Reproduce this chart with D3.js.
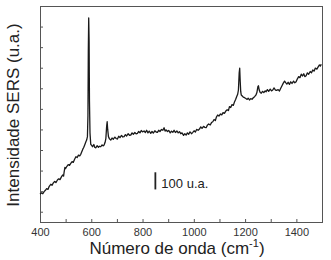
<!DOCTYPE html>
<meta charset="utf-8">
<title>Espectro SERS</title>
<style>
body { margin:0; background:#fff; }
svg { font-family: "Liberation Sans", Arial, sans-serif; }
.axis path, .axis line { stroke:#555; }
.axis text { font-size:11px; fill:#333; }
.frame { fill:none; stroke:#555; stroke-width:1px; }
.spectrum { fill:none; stroke:#1a1a1a; stroke-width:1.3px; stroke-linejoin:round; }
.label { font-size:17px; fill:#222; }
</style>
<body>
<div id="chart"></div>
<script src="https://cdn.jsdelivr.net/npm/d3@7"></script>
<script>
// numero de onda (cm-1)
var wavenumber = [400,406,411,416,421,426,431,436,442,447,452,457,462,468,473,478,483,488,492,494,497,500,505,510,515,520,525,530,535,540,545,550,555,559,563,567,570,574,579,582,585,587,588.5,590,591.5,593,595,598,602,605,610,614,618,623,628,632,637,642,646,650,654,657,660,662,664,667,671,676,681,686,692,697,702,707,712,718,723,728,733,738,744,749,754,759,764,770,775,780,785,790,795,800,806,811,816,821,826,832,837,842,848,853,858,863,868,874,879,884,888,892,897,902,908,913,918,923,928,934,939,944,949,954,960,965,970,975,980,985,991,996,1001,1006,1011,1017,1022,1027,1032,1038,1043,1048,1053,1058,1064,1069,1074,1079,1084,1088,1093,1098,1104,1109,1114,1120,1125,1130,1135,1139,1144,1149,1154,1159,1163,1167,1171,1174,1177,1179,1181,1183,1185,1189,1193,1198,1203,1208,1212,1217,1222,1227,1232,1237,1242,1246,1250,1252,1255,1259,1263,1268,1273,1278,1282,1287,1292,1298,1303,1308,1313,1318,1323,1329,1334,1339,1344,1349,1354,1359,1363,1368,1373,1378,1383,1389,1394,1399,1404,1409,1414,1419,1424,1429,1433,1438,1443,1448,1454,1459,1464,1469,1474,1480,1485,1490,1494,1497];
// intensidade (u.a.)
var intensity = [162,170,165,177,185,195,190,208,220,214,228,236,230,245,252,247,262,274,268,290,318,312,325,335,330,342,352,348,366,381,376,390,386,395,410,425,433,448,468,478,498,620,1000,1190,1060,700,520,453,446,439,452,435,433,445,436,442,439,450,444,449,465,488,560,585,540,498,485,478,490,483,495,487,484,500,492,505,496,498,510,502,515,506,507,520,512,522,514,517,528,520,534,526,531,522,535,520,530,517,528,519,532,525,523,535,528,540,535,550,530,537,528,534,520,530,523,535,522,531,520,527,515,520,505,515,507,520,512,526,515,523,532,525,540,535,542,555,546,558,552,550,565,572,566,580,585,598,592,612,624,618,630,625,638,634,648,655,650,673,668,685,680,702,715,730,745,770,870,897,820,760,741,735,728,725,720,715,722,712,720,716,725,731,740,755,790,795,770,755,751,762,755,765,760,772,762,775,765,770,782,770,768,772,764,780,795,810,822,812,805,815,803,818,808,822,812,818,835,848,842,862,852,865,848,853,870,862,878,870,887,880,898,892,905,916,910,920];

var xTicks = [400,500,600,700,800,900,1000,1100,1200,1300,1400,1500];
var xLabels = [400,600,800,1000,1200,1400];
var yTicks = [60,180,300,420,540,660,780,900,1020,1140];
var barValue = 100;

var W = 331, H = 260;
var margin = {top:6, right:9, bottom:38, left:40};
var w = W - margin.left - margin.right, h = H - margin.top - margin.bottom;

var svg = d3.select("#chart").append("svg")
    .attr("width", W).attr("height", H);
var g = svg.append("g").attr("transform", "translate(" + margin.left + "," + margin.top + ")");

var x = d3.scaleLinear().domain([400,1500]).range([0,w]);
var y = d3.scaleLinear().domain([0,1260]).range([h,0]);

g.append("g").attr("class","axis")
  .attr("transform","translate(0," + h + ")")
  .call(d3.axisBottom(x).tickValues(xTicks).tickSize(-3).tickPadding(6)
        .tickFormat(function(d){ return xLabels.indexOf(d) >= 0 ? d : ""; }))
  .call(function(a){ a.select(".domain").remove(); });

g.append("g").attr("class","axis")
  .call(d3.axisLeft(y).tickValues(yTicks).tickSize(-3).tickFormat(""))
  .call(function(a){ a.select(".domain").remove(); });

g.append("rect").attr("class","frame")
  .attr("x",0.5).attr("y",0.5).attr("width",w).attr("height",h);

var line = d3.line()
  .x(function(d,i){ return x(wavenumber[i]); })
  .y(function(d){ return y(d); });

g.append("path").datum(intensity).attr("class","spectrum").attr("d", line);

// barra de escala
var bx = x(850), by = y(190);
g.append("line")
  .attr("x1",bx).attr("x2",bx)
  .attr("y1",by).attr("y2",by - (y(0) - y(barValue)))
  .attr("stroke","#222").attr("stroke-width",1.8);
g.append("text")
  .attr("x",bx + 6).attr("y",by - 1)
  .style("font-size","13px").style("fill","#222")
  .text(barValue + " u.a.");

// rotulos
var xl = svg.append("text").attr("class","label")
  .attr("x", margin.left + w/2 - 4).attr("y", 254)
  .attr("text-anchor","middle");
xl.append("tspan").text("Número de onda (cm");
xl.append("tspan").attr("dy",-7).style("font-size","11px").text("-1");
xl.append("tspan").attr("dy",7).text(")");

svg.append("text").attr("class","label")
  .attr("transform","translate(19," + 115 + ") rotate(-90)")
  .attr("text-anchor","middle")
  .text("Intensidade SERS (u.a.)");
</script>
</body>
